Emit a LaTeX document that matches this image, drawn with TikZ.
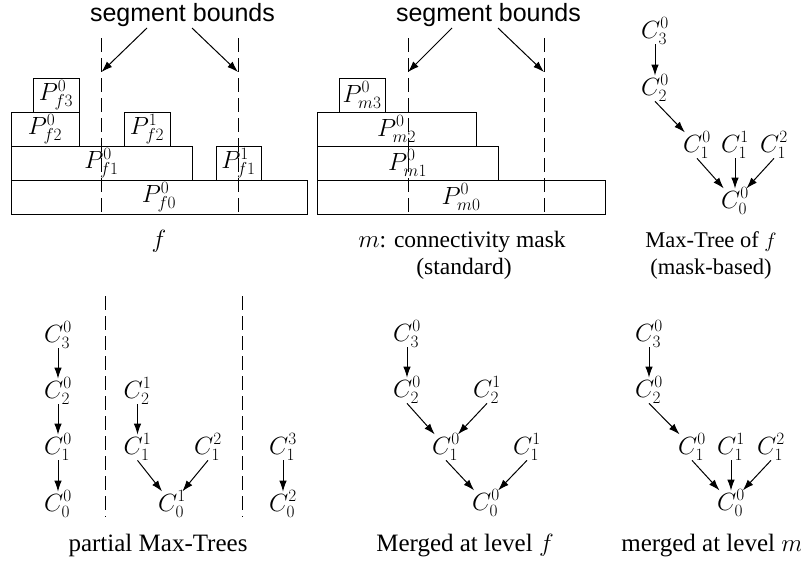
\documentclass[tikz,border=0pt]{standalone}
\usepackage{fontspec}
\setmainfont{Liberation Serif}
\newfontfamily\sbfont{Liberation Sans}
\usetikzlibrary{arrows.meta}
\tikzset{
  base font/.style={font=\fontsize{25}{30}\selectfont},
  pbox/.style={draw, line width=0.9pt, inner sep=0pt, minimum height=34pt, font=\fontsize{26}{30}\selectfont},
  tn/.style={inner sep=0pt, font=\fontsize{26.5}{30}\selectfont},
  arr/.style={-{Latex[length=11pt,width=7.5pt]}, line width=1pt, shorten >=-1pt},
  seg/.style={dash pattern=on 14pt off 6pt, line width=0.9pt},
  capt/.style={anchor=base, inner sep=0pt, base font},
  sbtext/.style={anchor=base, inner sep=0pt, font=\sbfont\fontsize{25}{30}\selectfont},
}
\begin{document}
\begin{tikzpicture}[x=1pt,y=-1pt]
\useasboundingbox (0,0) rectangle (801,562);

% ---------- top left: f ----------
\node[pbox, minimum width=296pt] (pf0a) at (159,197) {$P^0_{f0}$};
\node[pbox, minimum width=181pt] (pf1a) at (101.5,163) {$P^0_{f1}$};
\node[pbox, minimum width=45pt] (pf1b) at (238.5,163) {$P^1_{f1}$};
\node[pbox, minimum width=68pt] (pf2a) at (45,129) {$P^0_{f2}$};
\node[pbox, minimum width=46pt] (pf2b) at (147,129) {$P^1_{f2}$};
\node[pbox, minimum width=46pt] (pf3a) at (56,95) {$P^0_{f3}$};
\draw[seg] (101.5,38) -- (101.5,214);
\draw[seg] (238,38) -- (238,214);
\node[sbtext] (sbA) at (182.5,21) {segment bounds};
\coordinate (sA1) at (147,28);
\coordinate (tA1) at (101.5,72);
\coordinate (sA2) at (192,28);
\coordinate (tA2) at (238,72);
\draw[arr, shorten >=0pt] (sA1) -- (tA1);
\draw[arr, shorten >=0pt] (sA2) -- (tA2);
\node[capt] (capf) at (159,247) {$f$};

% ---------- top middle: m ----------
\node[pbox, minimum width=288pt] (pm0) at (461,197) {$P^0_{m0}$};
\node[pbox, minimum width=181pt] (pm1) at (407.5,163) {$P^0_{m1}$};
\node[pbox, minimum width=159pt] (pm2) at (396.5,129) {$P^0_{m2}$};
\node[pbox, minimum width=46pt] (pm3) at (362,95) {$P^0_{m3}$};
\draw[seg] (408,38) -- (408,214);
\draw[seg] (544,38) -- (544,214);
\node[sbtext] (sbB) at (488.5,21) {segment bounds};
\coordinate (sB1) at (452,28);
\coordinate (tB1) at (408,72);
\coordinate (sB2) at (498,28);
\coordinate (tB2) at (544,72);
\draw[arr, shorten >=0pt] (sB1) -- (tB1);
\draw[arr, shorten >=0pt] (sB2) -- (tB2);
\node[capt, font=\fontsize{23.5}{28}\selectfont] (capm1) at (462,247) {$m$: connectivity mask};
\node[capt, font=\fontsize{23.5}{28}\selectfont] (capm2) at (464,274) {(standard)};

% ---------- top right: Max-Tree of f ----------
\node[tn] (t30) at (655,31) {$C^0_3$};
\node[tn] (t20) at (655,88) {$C^0_2$};
\node[tn] (t10) at (697,145) {$C^0_1$};
\node[tn] (t11) at (735,145) {$C^1_1$};
\node[tn] (t12) at (774,145) {$C^2_1$};
\node[tn] (t00) at (735,201) {$C^0_0$};
\draw[arr] (t30.south) -- (t20.north);
\draw[arr] (t20.south) -- (t10);
\draw[arr] (t10.south) -- (t00);
\draw[arr] (t11.south) -- (t00.north);
\draw[arr] (t12.south) -- (t00);
\node[capt, font=\fontsize{22.5}{27}\selectfont] (capt1) at (711,247) {Max-Tree of $f$};
\node[capt, font=\fontsize{22.5}{27}\selectfont] (capt2) at (711,274) {(mask-based)};

% ---------- bottom left: partial Max-Trees ----------
\draw[seg] (105,296) -- (105,517);
\draw[seg] (242,296) -- (242,517);
\node[tn] (a3) at (58,335) {$C^0_3$};
\node[tn] (a2) at (58,391) {$C^0_2$};
\node[tn] (a1) at (58,447) {$C^0_1$};
\node[tn] (a0) at (58,504) {$C^0_0$};
\node[tn] (b2) at (137.5,391) {$C^1_2$};
\node[tn] (b1) at (137.5,447) {$C^1_1$};
\node[tn] (c1) at (208,447) {$C^2_1$};
\node[tn] (b0) at (172,504) {$C^1_0$};
\node[tn] (d1) at (283,447) {$C^3_1$};
\node[tn] (d0) at (283,504) {$C^2_0$};
\draw[arr] (a3.south) -- (a2.north);
\draw[arr] (a2.south) -- (a1.north);
\draw[arr] (a1.south) -- (a0.north);
\draw[arr] (b2.south) -- (b1.north);
\draw[arr] (b1.south) -- (b0);
\draw[arr] (c1.south) -- (b0);
\draw[arr] (d1.south) -- (d0.north);
\node[capt] (capp) at (158,551) {partial Max-Trees};

% ---------- bottom middle: merged at level f ----------
\node[tn] (m3) at (407,334) {$C^0_3$};
\node[tn] (m2) at (407,390) {$C^0_2$};
\node[tn] (n2) at (487,390) {$C^1_2$};
\node[tn] (m1) at (446,447) {$C^0_1$};
\node[tn] (n1) at (527,447) {$C^1_1$};
\node[tn] (m0) at (486,503) {$C^0_0$};
\draw[arr] (m3.south) -- (m2.north);
\draw[arr] (m2.south) -- (m1);
\draw[arr] (n2.south) -- (m1);
\draw[arr] (m1.south) -- (m0);
\draw[arr] (n1.south) -- (m0);
\node[capt] (capmf) at (465,551) {Merged at level $f$};

% ---------- bottom right: merged at level m ----------
\node[tn] (r3) at (649,334) {$C^0_3$};
\node[tn] (r2) at (649,390) {$C^0_2$};
\node[tn] (r1) at (692,447) {$C^0_1$};
\node[tn] (s1) at (731,447) {$C^1_1$};
\node[tn] (u1) at (771,447) {$C^2_1$};
\node[tn] (r0) at (731,503) {$C^0_0$};
\draw[arr] (r3.south) -- (r2.north);
\draw[arr] (r2.south) -- (r1);
\draw[arr] (r1.south) -- (r0);
\draw[arr] (s1.south) -- (r0.north);
\draw[arr] (u1.south) -- (r0);
\node[capt] (capmm) at (712,551) {merged at level $m$};
\end{tikzpicture}
\end{document}
